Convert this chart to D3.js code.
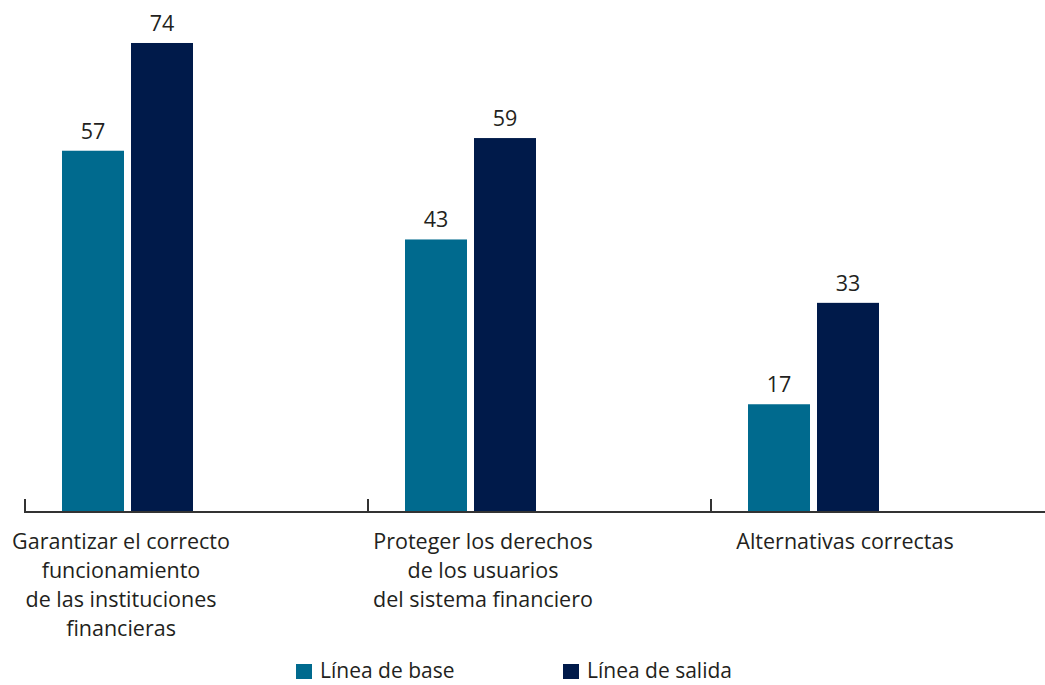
<!DOCTYPE html>
<html>
<head>
<meta charset="utf-8">
<script src="https://cdn.jsdelivr.net/npm/d3@7"></script>
<style>
  html, body { margin: 0; padding: 0; background: #fff; }
  svg { display: block; }
  text { font-family: "Open Sans", "Noto Sans", sans-serif; fill: #231f20; }
</style>
</head>
<body>
<svg id="chart" width="1045" height="685"></svg>
<script>
const categories = [
  ["Garantizar el correcto", "funcionamiento", "de las instituciones", "financieras"],
  ["Proteger los derechos", "de los usuarios", "del sistema financiero"],
  ["Alternativas correctas"]
];
const seriesNames = ["Línea de base", "Línea de salida"];
const baseValues = [57, 43, 17];
const exitValues = [74, 59, 33];
const seriesColors = ["#006a8e", "#001a4a"];

const svg = d3.select("#chart");
const keys = categories.map((c, i) => "c" + i);
const data = keys.map((k, i) => ({ key: k, lines: categories[i], values: [baseValues[i], exitValues[i]] }));

const baseY = 512;
const x0 = d3.scaleBand().domain(keys).range([25, 1054]).paddingInner(0).paddingOuter(0);
const x1 = d3.scaleBand().domain(seriesNames).range([37, 168]).paddingInner(7 / 69).paddingOuter(0);
const y = d3.scaleLinear().domain([0, 80]).range([baseY, baseY - 80 * 6.338]);
const xLab = d3.scaleBand().domain(keys).range([-60, 1026]);

// bars
const groups = svg.append("g").selectAll("g").data(data).join("g")
  .attr("transform", d => `translate(${x0(d.key)},0)`);
groups.selectAll("rect")
  .data(d => d.values.map((v, j) => ({ name: seriesNames[j], v, j })))
  .join("rect")
  .attr("x", d => x1(d.name))
  .attr("width", x1.bandwidth())
  .attr("y", d => y(d.v))
  .attr("height", d => y(0) - y(d.v))
  .attr("fill", d => seriesColors[d.j]);
groups.selectAll("text.val")
  .data(d => d.values.map((v, j) => ({ name: seriesNames[j], v, j })))
  .join("text").attr("class", "val")
  .attr("x", d => x1(d.name) + x1.bandwidth() / 2)
  .attr("y", d => y(d.v) - 12)
  .attr("text-anchor", "middle")
  .style("font-size", "21.5px")
  .text(d => d.v);

// axis
const axis = svg.append("g");
axis.append("line")
  .attr("x1", x0.range()[0] - 1).attr("x2", 1045)
  .attr("y1", y(0)).attr("y2", y(0))
  .attr("stroke", "#333").attr("stroke-width", 2);
axis.selectAll("line.tick").data(keys).join("line").attr("class", "tick")
  .attr("x1", d => x0(d)).attr("x2", d => x0(d))
  .attr("y1", y(0)).attr("y2", y(0) - 13)
  .attr("stroke", "#333").attr("stroke-width", 2);

// category labels
const lab = svg.append("g").selectAll("text").data(data).join("text")
  .attr("text-anchor", "middle")
  .style("font-size", "21.5px")
  .attr("transform", d => `translate(${xLab(d.key) + xLab.bandwidth() / 2},549)`);
lab.selectAll("tspan").data(d => d.lines).join("tspan")
  .attr("x", 0).attr("y", (d, i) => i * 29)
  .text(d => d);

// legend
const legX = [296, 563];
const leg = svg.append("g").selectAll("g").data(seriesNames).join("g")
  .attr("transform", (d, i) => `translate(${legX[i]},664)`);
leg.append("rect").attr("width", 16).attr("height", 15)
  .attr("fill", (d, i) => seriesColors[i]);
leg.append("text").attr("x", 24).attr("y", 14)
  .style("font-size", "21px")
  .text(d => d);
</script>
</body>
</html>
